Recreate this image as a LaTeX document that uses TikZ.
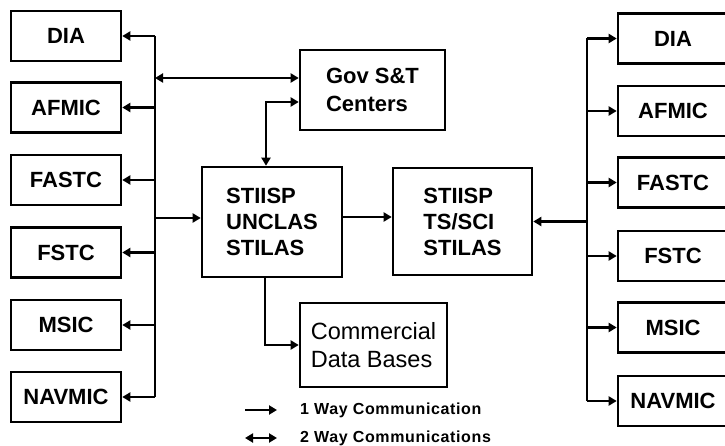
\documentclass[tikz,border=0pt]{standalone}
\usepackage{fontspec}
\setmainfont{Liberation Sans}
\usetikzlibrary{arrows.meta}
\begin{document}
\begin{tikzpicture}[x=1pt,y=-1pt,
  box/.style={draw, line width=2.6pt, inner sep=0pt, align=left,
    font=\fontsize{22}{26}\selectfont\bfseries},
  sbox/.style={box, minimum width=110pt, minimum height=50pt, align=center},
  conn/.style={line width=2.2pt},
  tip/.tip={Triangle[length=8pt,width=9pt]},
  one/.style={conn, -tip},
  two/.style={conn, tip-tip},
  legtext/.style={anchor=west, inner sep=0pt,
    font=\fontsize{16}{18}\selectfont\bfseries\addfontfeature{LetterSpace=4}},
]
\useasboundingbox (0,0) rectangle (725,446);
\clip (0,0) rectangle (725,446);

% left boxes
\node[sbox] (ldia) at (66,36) {DIA};
\node[sbox] (lafm) at (66,107.5) {AFMIC};
\node[sbox] (lfas) at (66,180) {FASTC};
\node[sbox] (lfst) at (66,252.5) {FSTC};
\node[sbox] (lmsi) at (66,325) {MSIC};
\node[sbox] (lnav) at (66,397) {NAVMIC};

% right boxes
\node[sbox] (rdia) at (673,38.5) {DIA};
\node[sbox] (rafm) at (673,111) {AFMIC};
\node[sbox] (rfas) at (673,182.5) {FASTC};
\node[sbox] (rfst) at (673,256) {FSTC};
\node[sbox] (rmsi) at (673,327.5) {MSIC};
\node[sbox] (rnav) at (673,401) {NAVMIC};

% central boxes
\node[box, minimum width=145pt, minimum height=80pt,
  font=\fontsize{22}{28}\selectfont\bfseries] (gov) at (372.5,90) {Gov S\&T\\Centers};
\node[box, minimum width=140pt, minimum height=110pt] (unclas) at (272,222) {STIISP\\UNCLAS\\STILAS};
\node[box, minimum width=139pt, minimum height=107pt] (ts) at (462.5,221.5) {STIISP\\TS/SCI\\STILAS};
\node[box, minimum width=147pt, minimum height=84pt,
  font=\fontsize{23.5}{28}\selectfont] (com) at (373.5,345) {Commercial\\Data Bases};

% buses
\coordinate (lbx) at (155,0);
\coordinate (rbx) at (587,0);
\draw[conn] (lbx |- ldia.east) -- (lbx |- lnav.east);
\draw[conn] (rbx |- rdia.west) -- (rbx |- rnav.west);

% left bus to left boxes
\foreach \n in {ldia,lafm,lfas,lfst,lmsi,lnav}
  \draw[one] (lbx |- \n.east) -- (\n.east);
% right bus to right boxes
\foreach \n in {rdia,rafm,rfas,rfst,rmsi,rnav}
  \draw[one] (rbx |- \n.west) -- (\n.west);

% bus <-> Gov
\coordinate (g1) at ([yshift=12pt]gov.west);
\draw[two] (lbx |- g1) -- (g1);
% Gov <-> UNCLAS
\coordinate (g2) at ([yshift=-12pt]gov.west);
\draw[two] (g2) -| ([xshift=-6pt]unclas.north);
% bus -> UNCLAS
\coordinate (u1) at ([yshift=4pt]unclas.west);
\draw[one] (lbx |- u1) -- (u1);
% UNCLAS -> TS
\coordinate (u2) at ([yshift=5pt]unclas.east);
\draw[one] (u2) -- (ts.west |- u2);
% right bus -> TS
\draw[one] (rbx |- ts.east) -- (ts.east);
% UNCLAS -> Commercial
\draw[one] ([xshift=-7pt]unclas.south) |- (com.west);

% legend
\coordinate (la1) at (245,410);
\coordinate (lb1) at (277,410);
\coordinate (la2) at (245,438);
\coordinate (lb2) at (277,438);
\draw[one] (la1) -- (lb1);
\draw[two] (la2) -- (lb2);
\node[legtext] (t1) at (300,410) {1 Way Communication};
\node[legtext] (t2) at (300,438) {2 Way Communications};
\end{tikzpicture}
\end{document}
